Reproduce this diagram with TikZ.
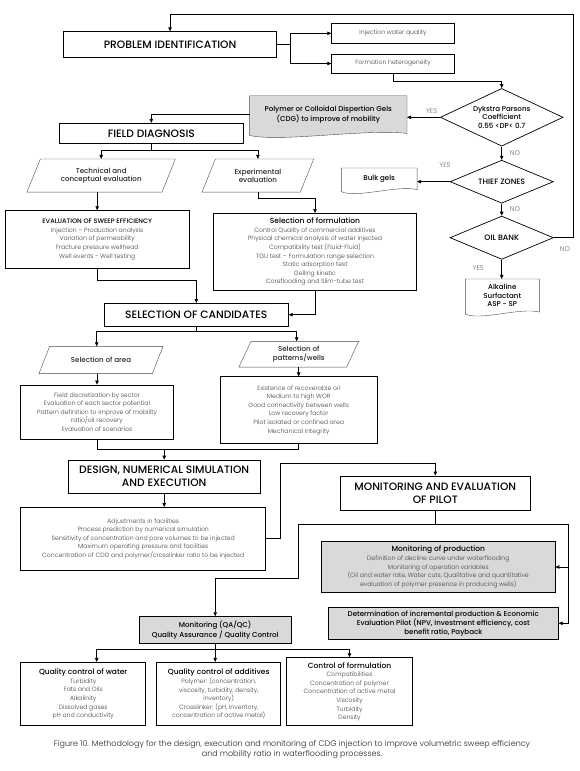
\documentclass[tikz,border=0pt]{standalone}
\usepackage{fontspec}
\setmainfont{Poppins}[UprightFont=* Light,BoldFont=* Medium]
\usetikzlibrary{shapes.geometric,arrows.meta,calc,backgrounds}
\newcommand{\hdfont}{\fontsize{10.7}{13}\selectfont\bfseries}
\newcommand{\bdfont}{\fontsize{6.15}{8.6}\selectfont}
\newcommand{\mdfont}{\fontsize{7.1}{8.4}\selectfont\bfseries}
\newcommand{\hd}[2][7.5]{{\fontsize{#1}{9}\selectfont\bfseries\color{black}#2}}
\newcommand{\wavyoutline}[2]{\draw[#1] (#2.south west) -- (#2.north west) -- (#2.north east) -- (#2.south east)
	.. controls ($(#2.south)!0.5!(#2.south east)+(0,-5)$) and ($(#2.south)!0.6!(#2.south west)+(0,9)$) .. ([yshift=-2pt]#2.south west) -- cycle;}
\newcommand{\slantoutline}[3]{\draw[#1] ([xshift=#3pt]#2.north west) -- (#2.north east) -- ([xshift=-#3pt]#2.south east) -- (#2.south west) -- cycle;}
\tikzset{
	box/.style={draw,rectangle,inner sep=1pt,align=center,text=black!75,font=\bdfont},
	graybox/.style={box,fill=black!15},
	para/.style={rectangle,inner sep=0pt,align=center,font=\mdfont,text=black!85},
	decision/.style={draw,diamond,aspect=2.1,inner sep=0pt,align=center,font=\mdfont},
	docnode/.style={inner sep=0pt,align=center,font=\mdfont},
	lbl/.style={font=\fontsize{6.8}{8}\selectfont,text=black!60},
	arr/.style={-{Triangle[length=4pt,width=3.4pt]}},
}
\begin{document}
\begin{tikzpicture}[x=1pt,y=-1pt,line width=0.7pt]
	\useasboundingbox (0,0) rectangle (580,771);
	\node[box,minimum width=213.4pt,minimum height=25.6pt,font=\hdfont,text=black] (probid) at (170,44.5) {PROBLEM IDENTIFICATION};
	\node[box,minimum width=122.6pt,minimum height=20pt] (injwater) at (393,33.3) {Injection water quality};
	\node[box,minimum width=122.6pt,minimum height=19pt] (formhet) at (393,63.5) {Formation heterogeneity};
	\node[decision,minimum width=122.7pt,minimum height=57.7pt] (dykstra) at (501.7,117.3) {Dykstra Parsons\\Coefficient\\0.55 <DP< 0.7};
	\node[docnode,minimum width=156.7pt,minimum height=37pt] (cdg) at (328.3,114.6) {Polymer or Colloidal Dispertion Gels\\(CDG) to improve of mobility};
	\node[box,minimum width=184pt,minimum height=20pt,font=\hdfont,text=black] (fielddiag) at (151.3,133.3) {FIELD DIAGNOSIS};
	\node[para,minimum width=147.7pt,minimum height=32.4pt] (techeval) at (101.2,175.5) {Technical and\\conceptual evaluation};
	\node[para,minimum width=111pt,minimum height=32.4pt] (expeval) at (257.9,175.5) {Experimental\\evaluation};
	\node[decision,minimum width=103.3pt,minimum height=43pt,font=\fontsize{7.8}{9}\selectfont\bfseries] (thief) at (501.7,181.7) {THIEF ZONES};
	\node[docnode,minimum width=75pt,minimum height=21pt] (bulk) at (379.2,178.8) {Bulk gels};
	\node[decision,minimum width=103.4pt,minimum height=43.3pt,font=\fontsize{7.8}{9}\selectfont\bfseries] (oilbank) at (501.7,237.7) {OIL BANK};
	\node[docnode,minimum width=73.3pt,minimum height=32.4pt] (alk) at (502.3,295.5) {Alkaline\\Surfactant\\ASP - SP};
	\node[box,minimum width=184.3pt,minimum height=57.6pt] (evalsweep) at (97.2,239.5) {\hd[6.5]{EVALUATION OF SWEEP EFFICIENCY}\\Injection -- Production analysis\\Variation of permeability\\Fracture pressure wellhead\\Well events - Well testing};
	\node[box,minimum width=203.4pt,minimum height=76.7pt] (selform) at (315,251.7) {\hd{Selection of formulation}\\Control Quality of commercial additives\\Physical chemical analysis of water injected\\Compatibility test (Fluid-Fluid)\\TGU test -- Formulation range selection\\Static adsorption test\\Gelling kinetic\\Coreflooding and Slim-tube test};
	\node[box,minimum width=184pt,minimum height=22.7pt,font=\hdfont,text=black] (selcand) at (196.3,314.7) {SELECTION OF CANDIDATES};
	\node[para,minimum width=123.4pt,minimum height=26.6pt] (selarea) at (101,360) {Selection of area};
	\node[para,minimum width=119pt,minimum height=25pt] (selpat) at (298.8,354.2) {Selection of\\patterns/wells};
	\node[box,minimum width=152.6pt,minimum height=54pt] (fieldsec) at (97,412) {Field discretization by sector\\Evaluation of each sector potential\\Pattern definition to improve of mobility\\ratio/oil recovery\\Evaluation of scenarios};
	\node[box,minimum width=157.3pt,minimum height=66.6pt] (exist) at (298.7,410) {Existence of recoverable oil\\Medium to high WOR\\Good connectivity between wells\\Low recovery factor\\Pilot isolated or confined area\\Mechanical Integrity};
	\node[box,minimum width=191.7pt,minimum height=33.3pt,font=\hdfont,text=black] (design) at (164.2,476.7) {DESIGN, NUMERICAL SIMULATION\\AND EXECUTION};
	\node[box,minimum width=245pt,minimum height=62.7pt] (adjust) at (143.2,538.7) {Adjustments in facilities\\Process prediction by numerical simulation\\Sensitivity of concentration and pore volumes to be injected\\Maximum operating pressure and facilities\\Concentration of CDG and polymer/crosslinker ratio to be injected};
	\node[box,minimum width=190.7pt,minimum height=34.7pt,font=\hdfont,text=black] (monpilot) at (435.3,493.3) {MONITORING AND EVALUATION\\OF PILOT};
	\node[graybox,minimum width=233.3pt,minimum height=50.6pt] (monprod) at (438.3,567) {\hd{Monitoring of production}\\Definition of decline curve under waterflooding\\Monitoring of operation variables\\(Oil and water rate, Water cuts, Qualitative and quantitative\\evaluation of polymer presence in producing wells)};
	\node[graybox,minimum width=230pt,minimum height=32pt,font=\mdfont,text=black] (determ) at (443.3,623.3) {Determination of incremental production \& Economic\\Evaluation Pilot (NPV, Investment efficiency, cost\\benefit ratio, Payback};
	\node[graybox,minimum width=151.7pt,minimum height=26.7pt,font=\mdfont,text=black] (qaqc) at (215.2,630) {Monitoring (QA/QC)\\Quality Assurance / Quality Control};
	\node[box,minimum width=125pt,minimum height=63.4pt] (qcwater) at (83.2,694) {\hd{Quality control of water}\\Turbidity\\Fats and Oils\\Alkalinity\\Dissolved gases\\pH and conductivity};
	\node[box,minimum width=124pt,minimum height=63.4pt] (qcadd) at (218.7,694) {\hd{Quality control of additives}\\Polymer: (concentration,\\viscosity, turbidity, density,\\inventory)\\Crosslinker: (pH, inventory,\\concentration of active metal)};
	\node[box,minimum width=125.6pt,minimum height=68pt] (ctrlform) at (349.5,691.7) {\hd{Control of formulation}\\Compatibilities\\Concentration of polymer\\Concentration of active metal\\Viscosity\\Turbidity\\Density};
	\node[align=center,font=\fontsize{8}{10.7}\selectfont,text=black!85] (caption) at (292,749.5) {Figure 10. Methodology for the design, execution and monitoring of CDG injection to improve volumetric sweep efficiency\\and mobility ratio in waterflooding processes.};
	\foreach \t/\x/\y [count=\i] in {YES/431.7/111,NO/515/152.7,YES/445/165,NO/515/209.3,NO/565/249.3,YES/478.3/267.7}
		\node[lbl] (lbl\i) at (\x,\y) {\t};
	\begin{scope}[on background layer]
		\wavyoutline{fill=black!15,draw=black!70}{cdg}
		\wavyoutline{fill=white,draw=black!70}{bulk}
		\wavyoutline{fill=white,draw=black!70}{alk}
		\slantoutline{draw=black!70}{techeval}{13.4}
		\slantoutline{draw=black!70}{expeval}{13.4}
		\slantoutline{draw=black!70}{selarea}{10.7}
		\slantoutline{draw=black!70}{selpat}{12}
	\end{scope}
	\coordinate (fbR) at (573.3,14.7);
	\draw[arr] (oilbank.east) -| (fbR) -| (probid.north);
	\coordinate (br1) at (290,44.5);
	\draw (probid.east) -- (br1);
	\draw[arr] (br1) |- (injwater.west);
	\draw[arr] (br1) |- (formhet.west);
	\draw[arr] (formhet.south) -- ++(0,8) -| (dykstra.north);
	\draw[arr] (dykstra.west) -- (dykstra.west -| cdg.east);
	\draw[arr] (cdg.west) -| (fielddiag.north);
	\coordinate (fd) at ($(fielddiag.south)+(0,6.7)$);
	\draw (fielddiag.south) -- (fd);
	\draw[arr] (fd) -| (techeval.north);
	\draw[arr] (fd) -| (expeval.north);
	\draw[arr] (dykstra.south) -- (thief.north);
	\draw[arr] (thief.west) -- (thief.west -| bulk.east);
	\draw[arr] (thief.south) -- (oilbank.north);
	\draw[arr] (oilbank.south) -- (oilbank.south |- alk.north);
	\draw[arr] (techeval.south -| evalsweep.north) -- (evalsweep.north);
	\draw[arr] (expeval.south) -- ++(0,6) -| (selform.north);
	\draw[arr] (evalsweep.south) -- ++(0,11.7) -| (selcand.north);
	\draw[arr] (selform.south) |- (selcand.east);
	\coordinate (sc) at ($(selcand.south)+(0,5)$);
	\draw (selcand.south) -- (sc);
	\draw[arr] (sc) -| ([xshift=-4.3pt]selarea.north);
	\draw[arr] (sc) -| ([xshift=-2.1pt]selpat.north);
	\draw[arr] (selarea.south -| fieldsec.north) -- (fieldsec.north);
	\draw[arr] (selpat.south -| exist.north) -- (exist.north);
	\coordinate (fe) at ($(design.north)+(0,-10)$);
	\draw (fieldsec.south) |- (fe);
	\draw (exist.south) |- (fe);
	\draw[arr] (fe) -- (design.north);
	\draw[arr] (design.south) -- (design.south |- adjust.north);
	\draw[arr] (adjust.east) -- ++(14.3,0) |- ($(monpilot.north)+(0,-12)$) -- (monpilot.north);
	\coordinate (mpL) at (298.3,524.3);
	\coordinate (mpR) at (568.3,524.3);
	\draw (monpilot.south) -- (monpilot.south |- mpL);
	\draw (mpL) -- (mpR);
	\draw[arr] (mpR) |- (monprod.east);
	\draw[arr] (mpR) |- (determ.east);
	\draw[arr] (mpL) -- ++(0,54) -| (qaqc.north);
	\coordinate (qq) at ($(qaqc.south)+(0,6)$);
	\draw (qaqc.south) -- (qq);
	\draw[arr] (qq) -| ([xshift=13.5pt]qcwater.north);
	\draw[arr] (qq) -- (qq |- qcadd.north);
	\draw[arr] (qq) -| (ctrlform.north);
\end{tikzpicture}
\end{document}
